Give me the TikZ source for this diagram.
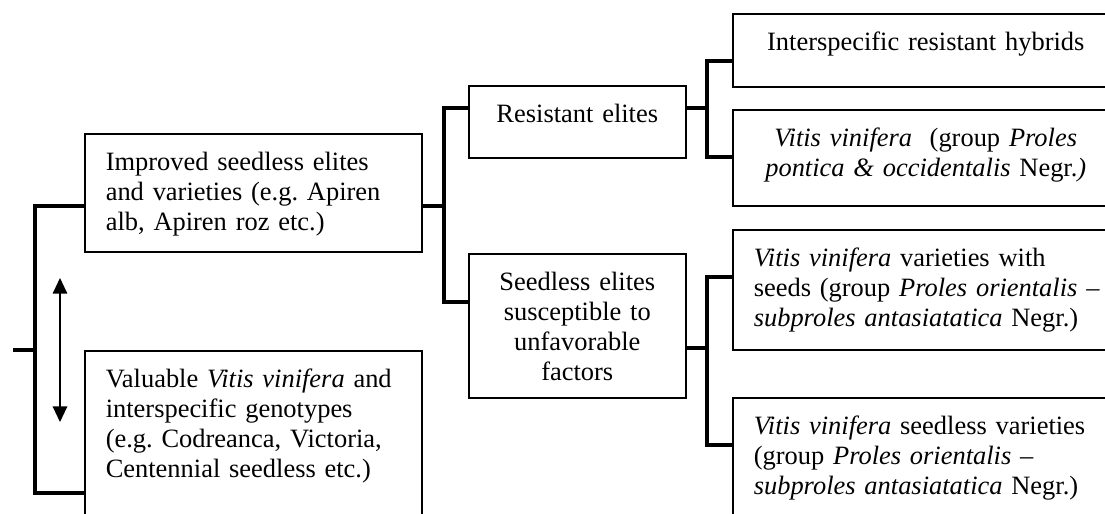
\documentclass[tikz,border=0pt]{standalone}
\usepackage{fontspec}
\setmainfont{Liberation Serif}
\usetikzlibrary{arrows.meta}
\frenchspacing

\begin{document}
\begin{tikzpicture}[x=0.45pt,y=-0.45pt,>={Triangle[width=6.5pt,length=7pt]},
  every node/.style={font=\fontsize{11.9}{13.5}\selectfont},
  box/.style={draw,line width=0.7pt,anchor=north west,inner xsep=9.45pt,inner ysep=0pt,
    text height=16.5pt,align=left},
  mid/.style={box,text width=132.75pt},
  small/.style={box,text width=78.75pt,align=center},
  wide/.style={box,text width=154.8pt},
  link/.style={line width=2pt}]

\useasboundingbox (0,0) rectangle (1105,513);
\clip (0,0) rectangle (1105,513);

% Left column
\node[mid,text depth=36.6pt] (imp) at (84,133)
  {Improved seedless elites\\and varieties (e.g. Apiren\\alb, Apiren roz etc.)};
\node[mid,text depth=78pt] (val) at (84,350)
  {Valuable \textit{Vitis vinifera} and\\interspecific genotypes\\(e.g. Codreanca, Victoria,\\Centennial seedless etc.)};

% Middle column
\node[small,text depth=15.9pt] (res) at (468,85) {Resistant elites};
\node[small,text depth=48.3pt] (seed) at (468,253)
  {Seedless elites\\susceptible to\\unfavorable\\factors};

% Right column
\node[wide,align=center,text depth=16.35pt] (hyb) at (732,13) {Interspecific resistant hybrids};
\node[wide,align=center,text depth=26.7pt] (pon) at (732,109)
  {\textit{Vitis vinifera}\ \ (group \textit{Proles}\\\textit{pontica \& occidentalis} Negr.\textit{)}};
\node[wide,text width=175pt,text depth=37.5pt] (ori) at (732,229)
  {\textit{Vitis vinifera} varieties with\\seeds (group \textit{Proles orientalis~–}\\\textit{subproles antasiatatica} Negr.)};
\node[wide,text width=175pt,text depth=56.85pt] (sdl) at (732,397)
  {\textit{Vitis vinifera} seedless varieties\\(group \textit{Proles orientalis~–}\\\textit{subproles antasiatatica} Negr.)};

% Brackets
\coordinate (root) at (13,350);
\coordinate (j0) at (35,350);
\draw[link] (root) -- (j0);
\draw[link] (imp.west |- 0,206) -| (j0) |- (val.west |- 0,493);

\coordinate (j1) at (444,206);
\draw[link] (imp.east |- j1) -- (j1);
\draw[link] (res.west |- 0,108) -| (j1) |- (seed.west |- 0,302);

\coordinate (j2) at (707,108);
\draw[link] (res.east |- j2) -- (j2);
\draw[link] (hyb.west |- 0,61) -| (j2) |- (pon.west |- 0,157);

\coordinate (j3) at (707,348);
\draw[link] (seed.east |- j3) -- (j3);
\draw[link] (ori.west |- 0,277) -| (j3) |- (sdl.west |- 0,445);

% Double arrow
\coordinate (a1) at (60,278);
\coordinate (a2) at (60,422);
\draw[<->,line width=0.6pt] (a1) -- (a2);

\end{tikzpicture}
\end{document}
